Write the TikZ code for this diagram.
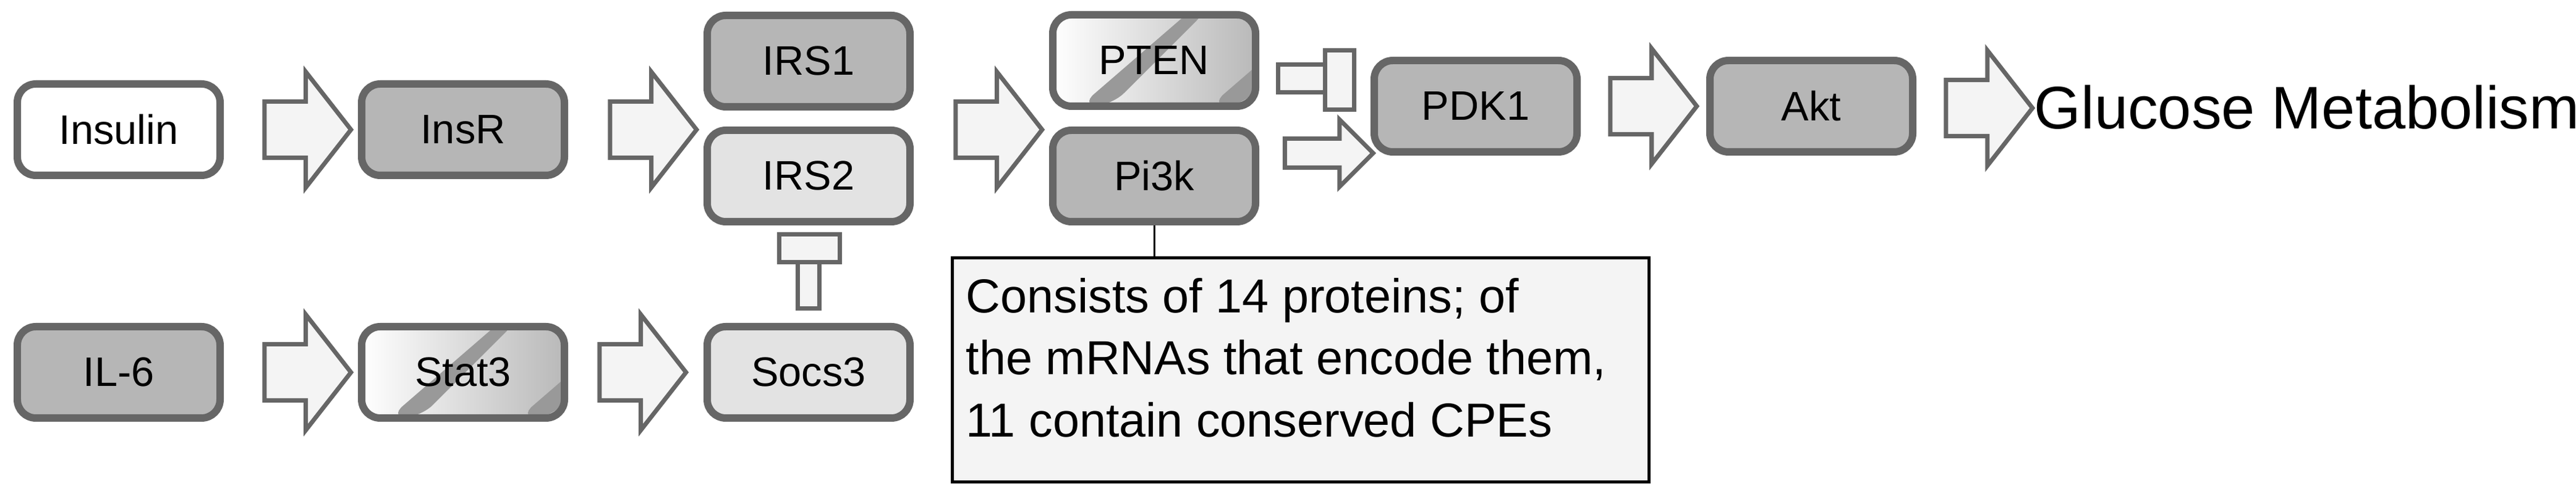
\documentclass[tikz,border=0pt]{standalone}
\usepackage{fontspec}
\setmainfont{Liberation Sans}
\usetikzlibrary{shapes.arrows}
\definecolor{edgegray}{HTML}{666666}
\definecolor{midgray}{HTML}{B6B6B6}
\definecolor{lightgray}{HTML}{E3E3E3}
\definecolor{notegray}{HTML}{F4F4F4}

\begin{document}
\begin{tikzpicture}[
    box/.style={draw=edgegray, line width=0.12cm, rounded corners=0.3cm, fill=midgray,
        minimum width=3.28cm, minimum height=1.48cm, font=\fontsize{19}{22}\selectfont},
    lightbox/.style={box, fill=lightgray},
    whitebox/.style={box, fill=white},
    stripebox/.style={box, fill=lightgray, path picture={
        \shade[shading angle=135, left color=white, right color=gray!55]
            (path picture bounding box.south west) rectangle (path picture bounding box.north east);
        \foreach \o in {-1.2,0.9} {
            \fill[gray!80] ([xshift=\o cm]path picture bounding box.south) -- ++(0.5,0) -- ++(1.6,1.6) -- ++(-0.25,0) -- cycle;
        }}},
    barrow/.style={single arrow, draw=edgegray, line width=0.07cm, fill=notegray,
        minimum height=1.4cm, minimum width=1.8cm, inner sep=0.42cm,
        single arrow head extend=0.48cm, single arrow tip angle=104},
    smallarrow/.style={barrow, minimum height=1.43cm, minimum width=1.05cm, inner sep=0.2cm,
        single arrow head extend=0.31cm, single arrow tip angle=90},
    stopper/.style={draw=edgegray, line width=0.07cm, fill=notegray}
]
    \useasboundingbox (0,0) rectangle (41.67,8);

    %% top row
    \node[whitebox]  (insulin) at (1.92,5.90) {Insulin};
    \node[box]       (insr)    at (7.49,5.90) {InsR};
    \node[box]       (irsone)  at (13.08,7.01) {IRS1};
    \node[lightbox]  (irstwo)  at (13.08,5.15) {IRS2};
    \node[stripebox] (pten)    at (18.67,7.02) {PTEN};
    \node[box]       (pik)     at (18.67,5.15) {Pi3k};
    \node[box]       (pdk)     at (23.87,6.28) {PDK1};
    \node[box]       (akt)     at (29.30,6.28) {Akt};
    \node[anchor=west, font=\fontsize{27.7}{32}\selectfont, inner sep=0pt] (glu) at (32.90,6.26) {Glucose Metabolism};

    %% bottom row
    \node[box]       (ilsix)   at (1.92,1.97) {IL-6};
    \node[stripebox] (stat)    at (7.49,1.97) {Stat3};
    \node[lightbox]  (socs)    at (13.08,1.97) {Socs3};

    %% block arrows
    \node[barrow] (a1) at (4.80,5.90) {};
    \node[barrow] (a2) at (10.39,5.90) {};
    \node[barrow] (a3) at (15.98,5.90) {};
    \node[barrow] (a4) at (26.57,6.28) {};
    \node[barrow] (a5) at (32.00,6.25) {};
    \node[barrow] (a6) at (4.80,1.97) {};
    \node[barrow] (a7) at (10.22,1.97) {};
    \node[smallarrow] (a8) at (21.38,5.52) {};

    %% inhibition
    \draw[stopper] (12.90,3.00) rectangle (13.25,3.75);
    \draw[stopper] (12.60,3.75) rectangle (13.58,4.20);
    \draw[stopper] (20.67,6.50) rectangle (21.47,6.95);
    \draw[stopper] (21.43,6.22) rectangle (21.90,7.18);

    %% note
    \node[draw=black, line width=0.05cm, fill=notegray, anchor=north west,
        minimum width=11.27cm, minimum height=3.63cm] (note) at (15.38,3.85) {};
    \node[anchor=north west, align=left, inner sep=0pt,
        font=\fontsize{22}{28.5}\selectfont] (notetext) at (15.62,3.50)
        {Consists of 14 proteins; of\\the mRNAs that encode them,\\11 contain conserved CPEs};
    \draw[line width=0.03cm] (pik.south) -- (note.north -| pik.south);
\end{tikzpicture}
\end{document}
